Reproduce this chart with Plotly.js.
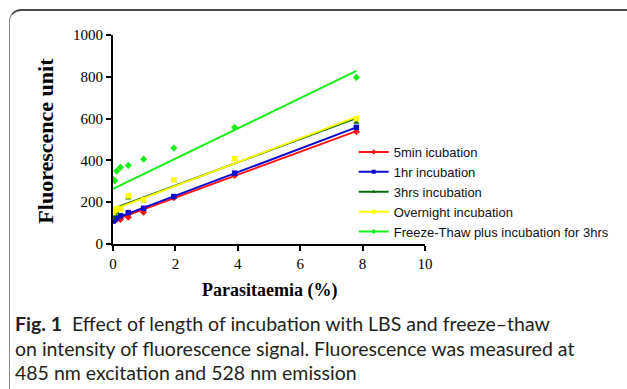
<!DOCTYPE html>
<html>
<head>
<meta charset="utf-8">
<script src="https://cdn.plot.ly/plotly-3.0.1.min.js"></script>
<style>
  html, body { margin: 0; padding: 0; background: #fff; width: 627px; height: 389px; overflow: hidden; }
  #frame { position: absolute; left: 9px; top: 9px; width: 700px; height: 420px;
           border-top: 2px solid #4a4a4a; border-left: 1.5px solid #8a8a8a; border-top-left-radius: 12px; }
  #chart { position: absolute; left: 0; top: 0; width: 627px; height: 389px; }
</style>
</head>
<body>
<div id="frame"></div>
<div id="chart"></div>
<script>
// Parasitaemia (%) values
const parasitaemia = [0, 0.06, 0.12, 0.24, 0.49, 0.98, 1.95, 3.9, 7.8];

// Fluorescence units per series
const min5      = [112, 115, 118, 118, 128, 152, 222, 328, 537];
const hr1       = [110, 118, 125, 135, 150, 171, 227, 339, 558];
const hrs3      = [125, 140, 150, 165, 220, 205, 305, 405, 582];
const overnight = [150, 160, 170, 168, 230, 211, 307, 408, 600];
const freezeThaw= [310, 303, 349, 367, 376, 406, 459, 558, 797];

const seriesNames = ["5min icubation", "1hr incubation", "3hrs incubation",
                     "Overnight incubation", "Freeze-Thaw plus incubation for 3hrs"];
const seriesData = [min5, hr1, hrs3, overnight, freezeThaw];
const seriesColors = ["#ff1414", "#0a0acc", "#0a6a0a", "#ffff00", "#19ee19"];
const seriesSymbols = ["diamond", "square", "triangle-up", "square", "diamond"];

// Linear trend lines: value at x=0 and at x=7.8
const trendX = [0, 7.8];
const trendStart = [112, 118, 168, 163, 264];
const trendEnd   = [540, 558, 603, 608, 828];

const xTicks = [0, 2, 4, 6, 8, 10];
const yTicks = [0, 200, 400, 600, 800, 1000];

const W = 627, H = 389;
const M = {l: 113, r: 199, t: 35, b: 145};
const PW = W - M.l - M.r, PH = H - M.t - M.b;
const px2x = p => (p - M.l) / PW;
const px2y = p => (H - M.b - p) / PH;

const traces = [];
for (let i = 0; i < seriesData.length; i++) {
  traces.push({
    x: trendX, y: [trendStart[i], trendEnd[i]], mode: "lines", type: "scatter",
    line: {color: seriesColors[i], width: 2}, showlegend: false, hoverinfo: "skip"
  });
  traces.push({
    x: parasitaemia, y: seriesData[i], mode: "markers", type: "scatter",
    marker: {color: seriesColors[i], size: 5.5, symbol: seriesSymbols[i]},
    showlegend: false
  });
}
for (let i = 0; i < seriesData.length; i++) {
  traces.push({
    x: [null], y: [null], mode: "lines+markers", type: "scatter", name: seriesNames[i],
    line: {color: seriesColors[i], width: 2},
    marker: {color: seriesColors[i], size: 4, symbol: seriesSymbols[i]}
  });
}

const serif = "Liberation Serif, Times New Roman, serif";
const capFont = {family: "Lato, sans-serif", size: 19.5, color: "#231f20"};

const layout = {
  width: W, height: H,
  margin: M,
  paper_bgcolor: "rgba(0,0,0,0)", plot_bgcolor: "rgba(0,0,0,0)",
  showlegend: true,
  legend: {
    x: px2x(356), y: px2y(137), xanchor: "left", yanchor: "top",
    bgcolor: "rgba(0,0,0,0)", borderwidth: 0,
    font: {family: "Liberation Sans, Arial, sans-serif", size: 13, color: "#111"},
    itemwidth: 30, tracegroupgap: 0
  },
  xaxis: {
    range: [0, 10], tickvals: xTicks, ticktext: xTicks.map(String),
    showline: true, linecolor: "#000", linewidth: 2, zeroline: false, showgrid: false,
    ticks: "outside", ticklen: 5, tickwidth: 2, tickcolor: "#000",
    tickfont: {family: serif, size: 15, color: "#000"}, fixedrange: true
  },
  yaxis: {
    range: [0, 1000], tickvals: yTicks, ticktext: yTicks.map(String),
    showline: true, linecolor: "#000", linewidth: 2, zeroline: false, showgrid: false,
    ticks: "outside", ticklen: 5, tickwidth: 2, tickcolor: "#000",
    tickfont: {family: serif, size: 15, color: "#000"}, fixedrange: true
  },
  annotations: [
    {text: "<b>Fluorescence unit</b>", textangle: -90, xref: "paper", yref: "paper",
     x: px2x(44), y: px2y(141), xanchor: "center", yanchor: "middle", showarrow: false,
     font: {family: serif, size: 22, color: "#000"}},
    {text: "<b>Parasitaemia (%)</b>", xref: "paper", yref: "paper",
     x: px2x(271), y: px2y(290), xanchor: "center", yanchor: "middle", showarrow: false,
     font: {family: serif, size: 18, color: "#000"}},
    {text: "<b>Fig. 1</b>  Effect of length of incubation with LBS and freeze–thaw", xref: "paper", yref: "paper",
     x: px2x(12), y: px2y(323), xanchor: "left", yanchor: "middle", showarrow: false, align: "left", font: capFont},
    {text: "on intensity of fluorescence signal. Fluorescence was measured at", xref: "paper", yref: "paper",
     x: px2x(12), y: px2y(348), xanchor: "left", yanchor: "middle", showarrow: false, align: "left", font: capFont},
    {text: "485 nm excitation and 528 nm emission", xref: "paper", yref: "paper",
     x: px2x(12), y: px2y(372), xanchor: "left", yanchor: "middle", showarrow: false, align: "left", font: capFont}
  ]
};

Plotly.newPlot("chart", traces, layout, {displayModeBar: false, staticPlot: true});
</script>
</body>
</html>
